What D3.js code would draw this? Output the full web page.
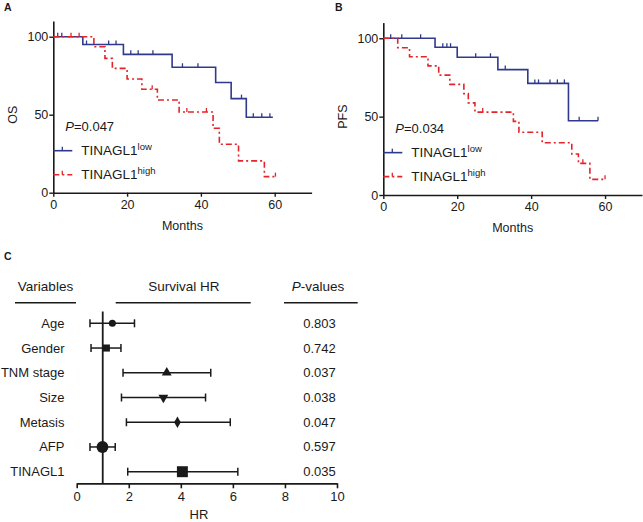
<!DOCTYPE html>
<html>
<head>
<meta charset="utf-8">
<title>TINAGL1 survival</title>
<script src="https://d3js.org/d3.v7.min.js"></script>
<style>
  body { margin: 0; background: #fff; }
  text { font-family: "Liberation Sans", Arial, sans-serif; fill: #1a1a1a; }
</style>
</head>
<body>
<div id="chart"></div>
<script>
// --- panel A: overall survival (months, %)
const osLowTime = [0, 8, 19, 32.2, 44, 48.2, 52.3, 59.5];
const osLowSurv = [100, 95, 88.7, 80.4, 70.6, 60.3, 48.4, 48.4];
const osLowCens = [1.2, 2.3, 9, 15, 17, 21, 23, 27, 35, 39.2, 51, 54.2, 56.5, 58.7];
const osHighTime = [0, 11, 14, 16, 20, 24, 28.2, 34.1, 43.3, 45, 50.2, 57.2, 60.2];
const osHighSurv = [100, 93.6, 86.1, 79.7, 72.9, 66.3, 59.4, 51.7, 41.3, 31.1, 20.4, 10.3, 10.3];
const osHighCens = [4.8, 7, 26.8, 36.2, 41.5, 60.2];
const osP = "0.047";

// --- panel B: progression free survival
const pfsLowTime = [0, 14, 20, 31, 39.1, 50.1, 58.1];
const pfsLowSurv = [100, 94.3, 87.9, 80, 71.2, 47.4, 47.4];
const pfsLowCens = [2, 5, 10.1, 16.1, 17.2, 18.2, 25, 29, 33, 41, 42, 45.1, 47.1, 49, 53, 58.1];
const pfsHighTime = [0, 3.9, 7.1, 12.1, 15, 18, 21.8, 23, 24.8, 35.2, 36.7, 43, 51, 52.8, 55.9, 60];
const pfsHighSurv = [100, 94, 88.2, 82.4, 76.5, 70.6, 64.7, 58.8, 52.9, 47, 40, 33.3, 26.2, 20.2, 10, 10];
const pfsHighCens = [26.9, 54, 60];
const pfsP = "0.034";

const kmXTicks = [0, 20, 40, 60];
const kmYTicks = [0, 50, 100];

// --- panel C: forest plot
const variables = ["Age", "Gender", "TNM stage", "Size", "Metasis", "AFP", "TINAGL1"];
const hr = [1.37, 1.14, 3.46, 3.33, 3.87, 0.99, 4.06];
const hrLow = [0.51, 0.55, 1.78, 1.72, 1.91, 0.51, 1.96];
const hrHigh = [2.22, 1.70, 5.15, 4.95, 5.90, 1.48, 6.19];
const pValues = ["0.803", "0.742", "0.037", "0.038", "0.047", "0.597", "0.035"];
const markers = ["circle", "square", "triangle", "triangleDown", "diamond", "bigCircle", "bigSquare"];
const hrTicks = [0, 2, 4, 6, 8, 10];

const BLUE = "#2f3a8c", RED = "#e3242b", INK = "#1a1a1a";

const svg = d3.select("#chart").append("svg")
  .attr("width", 643).attr("height", 522);

function panelLabel(t, x, y) {
  svg.append("text").attr("x", x).attr("y", y)
    .attr("font-size", 10.5).attr("font-weight", "bold").text(t);
}

function stepAt(times, surv, t) {
  let v = surv[0];
  times.forEach((tt, i) => { if (tt <= t) v = surv[i]; });
  return v;
}

function drawKM(o) {
  const x = d3.scaleLinear().domain([0, 70]).range([o.x0, o.x1]);
  const y = d3.scaleLinear().domain([0, 110]).range([o.y0, o.y1]);
  const g = svg.append("g");

  const xa = g.append("g").attr("transform", `translate(0,${o.y0})`)
    .call(d3.axisBottom(x).tickValues(kmXTicks).tickSize(4).tickSizeOuter(0).tickPadding(3));
  const ya = g.append("g").attr("transform", `translate(${o.x0},0)`)
    .call(d3.axisLeft(y).tickValues(kmYTicks).tickSize(4).tickSizeOuter(0).tickPadding(1));
  [xa, ya].forEach(a => {
    a.select(".domain").attr("stroke", INK).attr("stroke-width", 1.6);
    a.selectAll(".tick line").attr("stroke", INK).attr("stroke-width", 1.4);
    a.selectAll(".tick text").attr("font-size", 12.5).attr("fill", INK)
      .attr("font-family", "Liberation Sans, Arial, sans-serif");
  });

  g.append("text").attr("x", (o.x0 + o.x1) / 2).attr("y", o.y0 + 37)
    .attr("text-anchor", "middle").attr("font-size", 12.5).text("Months");
  g.append("text").attr("transform", `translate(${o.x0 - 36},${y(50)}) rotate(-90)`)
    .attr("text-anchor", "middle").attr("font-size", 12.5).text(o.ylab);

  const line = d3.line().curve(d3.curveStepAfter).x(d => x(d[0])).y(d => y(d[1]));
  const series = [
    { t: o.lowT, s: o.lowS, c: o.lowC, col: BLUE, dash: null },
    { t: o.highT, s: o.highS, c: o.highC, col: RED, dash: "6,3,2,3" }
  ];
  series.forEach(sr => {
    const pts = sr.t.map((t, i) => [t, sr.s[i]]);
    g.append("path").attr("d", line(pts)).attr("fill", "none")
      .attr("stroke", sr.col).attr("stroke-width", 1.6)
      .attr("stroke-dasharray", sr.dash);
    g.selectAll(null).data(sr.c).enter().append("line")
      .attr("x1", d => x(d)).attr("x2", d => x(d))
      .attr("y1", d => y(stepAt(sr.t, sr.s, d)))
      .attr("y2", d => y(stepAt(sr.t, sr.s, d)) - 4)
      .attr("stroke", sr.col).attr("stroke-width", 1.3);
  });

  // p value
  const pt = g.append("text").attr("x", o.x0 + 12).attr("y", y(50) + 16).attr("font-size", 13);
  pt.append("tspan").attr("font-style", "italic").text("P");
  pt.append("tspan").text("=" + o.p);

  // legend
  const leg = [
    { col: BLUE, dash: null, sup: "low", dy: 36 },
    { col: RED, dash: "6,3,2,3", sup: "high", dy: 60 }
  ];
  leg.forEach(l => {
    const ly = y(50) + l.dy;
    g.append("line").attr("x1", o.x0).attr("x2", o.x0 + 19).attr("y1", ly).attr("y2", ly)
      .attr("stroke", l.col).attr("stroke-width", 1.6).attr("stroke-dasharray", l.dash);
    g.append("line").attr("x1", o.x0 + 9).attr("x2", o.x0 + 9).attr("y1", ly).attr("y2", ly - 4)
      .attr("stroke", l.col).attr("stroke-width", 1.3);
    const tx = g.append("text").attr("x", o.x0 + 28).attr("y", ly + 4.5).attr("font-size", 13.5);
    tx.append("tspan").text("TINAGL1");
    tx.append("tspan").attr("font-size", 9.5).attr("dy", -5).text(l.sup);
  });
}

panelLabel("A", 4, 11);
drawKM({ x0: 53.3, x1: 311.6, y0: 192.7, y1: 21.1, ylab: "OS", p: osP,
  lowT: osLowTime, lowS: osLowSurv, lowC: osLowCens,
  highT: osHighTime, highS: osHighSurv, highC: osHighCens });

panelLabel("B", 335, 11);
drawKM({ x0: 383.3, x1: 642, y0: 195, y1: 22.6, ylab: "PFS", p: pfsP,
  lowT: pfsLowTime, lowS: pfsLowSurv, lowC: pfsLowCens,
  highT: pfsHighTime, highS: pfsHighSurv, highC: pfsHighCens });

// ---------------- panel C
panelLabel("C", 4, 260);
const fx = d3.scaleLinear().domain([0, 10]).range([76.7, 337]);
const fy = d3.scalePoint().domain(variables).range([323.3, 471.7]);
const fg = svg.append("g");

const heads = [
  { t: "Variables", cx: 45.5, x1: 15, x2: 76 },
  { t: "Survival HR", cx: 184, x1: 115.7, x2: 250.7 },
  { t: "-values", cx: 318, x1: 284, x2: 357.7, italic: "P" }
];
heads.forEach(h => {
  const t = fg.append("text").attr("x", h.cx).attr("y", 290.5)
    .attr("text-anchor", "middle").attr("font-size", 13.5);
  if (h.italic) t.append("tspan").attr("font-style", "italic").text(h.italic);
  t.append("tspan").text(h.t);
  fg.append("line").attr("x1", h.x1).attr("x2", h.x2).attr("y1", 302.7).attr("y2", 302.7)
    .attr("stroke", INK).attr("stroke-width", 1.6);
});

const fa = fg.append("g").attr("transform", "translate(0,483.3)")
  .call(d3.axisBottom(fx).tickValues(hrTicks).tickSize(5).tickSizeOuter(0).tickPadding(3));
fa.select(".domain").attr("stroke", INK).attr("stroke-width", 1.8);
fa.selectAll(".tick line").attr("stroke", INK).attr("stroke-width", 1.6);
fa.selectAll(".tick text").attr("font-size", 13).attr("fill", INK)
  .attr("font-family", "Liberation Sans, Arial, sans-serif");
fg.append("text").attr("x", 199).attr("y", 519).attr("text-anchor", "middle")
  .attr("font-size", 13).text("HR");

// reference line at HR = 1
fg.append("line").attr("x1", fx(1)).attr("x2", fx(1)).attr("y1", 311.5).attr("y2", 483.3)
  .attr("stroke", INK).attr("stroke-width", 1.8);

const symSize = { circle: 40, square: 50, triangle: 42, triangleDown: 42, diamond: 38, bigCircle: 110, bigSquare: 120 };
const symType = { circle: d3.symbolCircle, square: d3.symbolSquare, triangle: d3.symbolTriangle,
  triangleDown: d3.symbolTriangle, diamond: d3.symbolDiamond, bigCircle: d3.symbolCircle, bigSquare: d3.symbolSquare };

variables.forEach((v, i) => {
  const cy = fy(v);
  fg.append("text").attr("x", 64.5).attr("y", cy + 4.5).attr("text-anchor", "end")
    .attr("font-size", 13).text(v);
  fg.append("text").attr("x", 319.5).attr("y", cy + 4.5).attr("text-anchor", "middle")
    .attr("font-size", 13).text(pValues[i]);
  fg.append("line").attr("x1", fx(hrLow[i])).attr("x2", fx(hrHigh[i])).attr("y1", cy).attr("y2", cy)
    .attr("stroke", INK).attr("stroke-width", 1.5);
  [hrLow[i], hrHigh[i]].forEach(c => {
    fg.append("line").attr("x1", fx(c)).attr("x2", fx(c)).attr("y1", cy - 4).attr("y2", cy + 4)
      .attr("stroke", INK).attr("stroke-width", 1.5);
  });
  const m = markers[i];
  let rot = m === "triangleDown" ? " rotate(180)" : "";
  fg.append("path").attr("d", d3.symbol().type(symType[m]).size(symSize[m])())
    .attr("transform", `translate(${fx(hr[i])},${cy})${rot}`)
    .attr("fill", INK);
});
</script>
</body>
</html>
